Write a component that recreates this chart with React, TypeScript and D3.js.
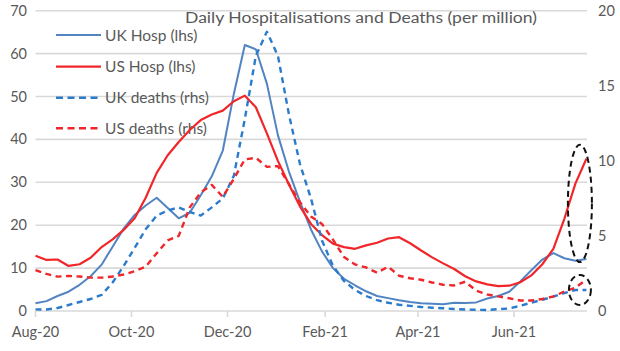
import React from "react";
import * as d3 from "d3";

const startDate = new Date(2020, 7, 1);
const weeks = d3.range(51).map((i) => d3.timeDay.offset(startDate, i * 7));

const ukHosp = [1.8, 2.3, 3.5, 4.5, 6.1, 8.1, 10.8, 15.0, 19.2, 22.4, 24.6, 26.4, 24.0, 21.6, 22.9, 27.0, 31.4, 37.4, 50.6, 62.0, 61.0, 53, 41, 32.5, 25.5, 19.0, 13.9, 10.0, 7.5, 6.0, 4.6, 3.5, 3.0, 2.5, 2.1, 1.8, 1.7, 1.6, 1.9, 1.85, 2.0, 2.9, 3.5, 4.5, 6.9, 9.5, 12.0, 13.5, 12.3, 11.7, 12.1];
const usHosp = [12.9, 11.9, 12.0, 10.5, 10.9, 12.4, 14.9, 16.7, 18.9, 21.6, 26.4, 32.2, 36.3, 39.4, 42.2, 44.5, 45.8, 46.7, 48.9, 50.2, 47.5, 41.4, 35.0, 29.5, 24.4, 20.3, 17.7, 15.7, 14.9, 14.5, 15.3, 15.9, 16.9, 17.2, 15.8, 14.1, 12.5, 11.1, 9.8, 8.1, 6.9, 6.2, 5.8, 5.9, 6.7, 8.3, 10.9, 14.5, 21.5, 29.7, 35.5];
const ukDeaths = [0.11, 0.1, 0.2, 0.4, 0.6, 0.8, 1.07, 1.9, 3.0, 4.2, 5.45, 6.35, 6.7, 6.9, 6.6, 6.35, 6.9, 7.5, 9.0, 12.8, 17.0, 18.6, 17.0, 13.1, 9.8, 7.5, 4.7, 3.0, 2.0, 1.4, 1.0, 0.72, 0.55, 0.42, 0.34, 0.27, 0.22, 0.18, 0.13, 0.1, 0.08, 0.07, 0.12, 0.17, 0.35, 0.55, 0.75, 0.95, 1.2, 1.4, 1.4];
const usDeaths = [2.73, 2.47, 2.29, 2.33, 2.3, 2.22, 2.22, 2.3, 2.43, 2.65, 2.95, 3.85, 4.7, 5.0, 6.9, 7.9, 8.4, 7.6, 8.8, 10.1, 10.2, 9.6, 9.65, 8.45, 7.25, 6.3, 5.8, 4.75, 3.6, 3.1, 2.9, 2.55, 2.95, 2.35, 2.18, 2.08, 1.9, 1.75, 1.7, 1.95, 1.35, 1.1, 0.97, 0.85, 0.7, 0.7, 0.8, 0.97, 1.3, 1.55, 2.1];

const xTickDates = [new Date(2020, 7, 1), new Date(2020, 9, 1), new Date(2020, 11, 1), new Date(2021, 1, 1), new Date(2021, 3, 1), new Date(2021, 5, 1)];
const xTickLabels = ["Aug-20", "Oct-20", "Dec-20", "Feb-21", "Apr-21", "Jun-21"];
const leftTicks = [0, 10, 20, 30, 40, 50, 60, 70];
const rightTicks = [0, 5, 10, 15, 20];

const title = "Daily Hospitalisations and Deaths (per million)";
const seriesNames = ["UK Hosp (lhs)", "US Hosp (lhs)", "UK deaths (rhs)", "US deaths (rhs)"];

const BLUE_SOLID = "#5284c2";
const BLUE_DASH = "#2a7bcb";
const RED = "#f0262a";
const GRID = "#d9d9d9";
const TEXT = "#595959";
const FONT = "Lato, 'Open Sans', sans-serif";

export default function App() {
  const W = 620, H = 351;
  const x = d3.scaleTime().domain([xTickDates[0], xTickDates[5]]).range([35.5, 514]);
  const xEnd = 587;
  const yL = d3.scaleLinear().domain([0, 70]).range([311, 10.7]);
  const yR = d3.scaleLinear().domain([0, 20]).range([311, 10.7]);

  const lineL = d3.line<number>().x((_, i) => x(weeks[i])).y((d) => yL(d));
  const lineR = d3.line<number>().x((_, i) => x(weeks[i])).y((d) => yR(d));

  const series = [
    { name: seriesNames[0], d: lineL(ukHosp), color: BLUE_SOLID, dash: undefined, w: 2 },
    { name: seriesNames[1], d: lineL(usHosp), color: RED, dash: undefined, w: 2.2 },
    { name: seriesNames[2], d: lineR(ukDeaths), color: BLUE_DASH, dash: "6,4.5", w: 2.4 },
    { name: seriesNames[3], d: lineR(usDeaths), color: RED, dash: "6,4.5", w: 2.4 },
  ];

  const legendY = [35, 66.7, 97.7, 128.3];

  // ellipse annotations anchored to the last data points
  const last = weeks[weeks.length - 1];
  const ex = x(last) - 6.5;
  const bigTop = yL(usHosp[usHosp.length - 1]) - 14;
  const bigBot = yL(ukHosp[ukHosp.length - 1]) + 3;
  const smallCy = yR(ukDeaths[ukDeaths.length - 1]);

  return (
    <svg width={W} height={H} style={{ position: "absolute", left: 0, top: 0, background: "#fff" }} fontFamily={FONT}>
      {leftTicks.map((t) => (
        <line key={t} x1={35.5} x2={xEnd} y1={yL(t)} y2={yL(t)} stroke={GRID} strokeWidth={1.6} />
      ))}
      {xTickDates.map((d, i) => (
        <g key={i}>
          <line x1={x(d)} x2={x(d)} y1={311} y2={317} stroke={GRID} strokeWidth={1.6} />
          <text x={x(d)} y={337} textAnchor="middle" fontSize={14.5} fill={TEXT}>{xTickLabels[i]}</text>
        </g>
      ))}
      {leftTicks.map((t) => (
        <text key={t} x={27} y={yL(t) + 5} textAnchor="end" fontSize={14.5} fill={TEXT}>{t}</text>
      ))}
      {rightTicks.map((t) => (
        <text key={t} x={598} y={yR(t) + 5} textAnchor="start" fontSize={14.5} fill={TEXT}>{t}</text>
      ))}
      <text x={185} y={23} fontSize={14.5} fill={TEXT} textLength={352} lengthAdjust="spacingAndGlyphs">{title}</text>
      {series.map((s, i) => (
        <g key={s.name}>
          <line x1={56} x2={101} y1={legendY[i]} y2={legendY[i]} stroke={s.color} strokeWidth={s.w} strokeDasharray={s.dash ? "7,4.5" : undefined} />
          <text x={105} y={legendY[i] + 5.5} fontSize={15.5} fill={TEXT}>{s.name}</text>
        </g>
      ))}
      {series.map((s) => (
        <path key={s.name} d={s.d || ""} fill="none" stroke={s.color} strokeWidth={s.w} strokeDasharray={s.dash} strokeLinejoin="round" />
      ))}
      <ellipse cx={ex} cy={(bigTop + bigBot) / 2} rx={12} ry={(bigBot - bigTop) / 2} fill="none" stroke="#111" strokeWidth={2} strokeDasharray="6,4" />
      <ellipse cx={ex} cy={smallCy} rx={11} ry={15} fill="none" stroke="#111" strokeWidth={2} strokeDasharray="6,4" />
    </svg>
  );
}
